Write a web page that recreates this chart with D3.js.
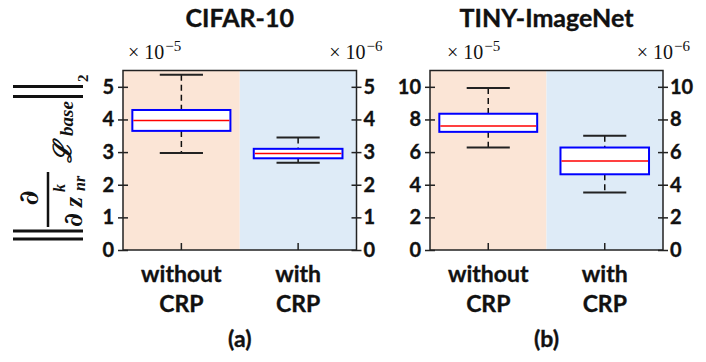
<!DOCTYPE html>
<html lang="en">
<head>
<meta charset="UTF-8">
<script src="https://d3js.org/d3.v7.min.js"></script>
<title>CRP gradient norm boxplots</title>
<style>
    body { margin: 0; background: #fff; }
    svg text { fill: #111; }
    .lbl { font-family: Lato, "Open Sans", sans-serif; font-weight: bold; stroke: #111; stroke-width: 0.35px; }
    .math { font-family: "Liberation Serif", "DejaVu Serif", serif; }
    .dee { font-family: "DejaVu Serif", serif; font-weight: bold; font-style: italic; }
</style>
</head>
<body>
<div id="fig"></div>
<script>
    // categories and labels
    const categories = ["without CRP", "with CRP"];
    const panelTitles = ["CIFAR-10", "TINY-ImageNet"];
    const panelTags = ["(a)", "(b)"];
    const exponents = ["−5", "−6"]; // left box scale, right box scale

    // box stats: [min, q1, median, q3, max]
    const cifarWithout = [2.97, 3.65, 3.97, 4.29, 5.37];
    const cifarWith = [2.67, 2.81, 2.96, 3.10, 3.45];
    const tinyWithout = [6.28, 7.24, 7.60, 8.35, 9.92];
    const tinyWith = [3.52, 4.64, 5.45, 6.28, 7.00];

    const cifarTicks = [0, 1, 2, 3, 4, 5];
    const tinyTicks = [0, 2, 4, 6, 8, 10];
    const yMaxes = [5.5, 11];

    const W = 706, H = 362;
    const plotTop = 70.5, plotBottom = 250;

    const panels = [
        { left: 123, right: 356.5, stats: [cifarWithout, cifarWith], ticks: cifarTicks, ymax: yMaxes[0], expL: 5, expR: 26 },
        { left: 430, right: 663, stats: [tinyWithout, tinyWith], ticks: tinyTicks, ymax: yMaxes[1], expL: 17, expR: 27 }
    ];
    const boxFrac = [0.84, 0.76];
    const capFrac = 0.37;
    const bgColors = ["#fbe5d6", "#deebf7"];
    const axisColor = "#222";

    const svg = d3.select("#fig").append("svg")
        .attr("width", W)
        .attr("height", H);

    panels.forEach((p, pi) => {
        const g = svg.append("g");

        const x = d3.scaleBand()
            .domain(categories)
            .range([p.left, p.right]);
        const y = d3.scaleLinear()
            .domain([0, p.ymax])
            .range([plotBottom, plotTop]);

        // shaded halves
        g.selectAll("rect.bg")
            .data(categories)
            .enter().append("rect")
            .attr("class", "bg")
            .attr("x", d => x(d))
            .attr("y", plotTop)
            .attr("width", x.bandwidth())
            .attr("height", plotBottom - plotTop)
            .attr("fill", (d, i) => bgColors[i]);

        // boxes
        const boxes = g.selectAll("g.box")
            .data(categories)
            .enter().append("g")
            .attr("class", "box");

        boxes.each(function (cat, i) {
            const s = p.stats[i];
            const cx = x(cat) + x.bandwidth() / 2;
            const bw = x.bandwidth() * boxFrac[i];
            const cw = x.bandwidth() * capFrac;
            const b = d3.select(this);

            // whiskers
            b.append("line")
                .attr("x1", cx).attr("x2", cx)
                .attr("y1", y(s[4])).attr("y2", y(s[3]))
                .attr("stroke", "#111").attr("stroke-width", 1.5)
                .attr("stroke-dasharray", "6,4");
            b.append("line")
                .attr("x1", cx).attr("x2", cx)
                .attr("y1", y(s[1])).attr("y2", y(s[0]))
                .attr("stroke", "#111").attr("stroke-width", 1.5)
                .attr("stroke-dasharray", "6,4");
            // caps
            [s[0], s[4]].forEach(v => {
                b.append("line")
                    .attr("x1", cx - cw / 2).attr("x2", cx + cw / 2)
                    .attr("y1", y(v)).attr("y2", y(v))
                    .attr("stroke", "#222").attr("stroke-width", 2);
            });
            // box
            b.append("rect")
                .attr("x", cx - bw / 2)
                .attr("y", y(s[3]))
                .attr("width", bw)
                .attr("height", y(s[1]) - y(s[3]))
                .attr("fill", "#fff")
                .attr("stroke", "#0000ff")
                .attr("stroke-width", 2);
            // median
            b.append("line")
                .attr("x1", cx - bw / 2 + 1).attr("x2", cx + bw / 2 - 1)
                .attr("y1", y(s[2])).attr("y2", y(s[2]))
                .attr("stroke", "#ff0000").attr("stroke-width", 1.5);

            // category tick along the bottom (inside)
            g.append("line")
                .attr("x1", cx).attr("x2", cx)
                .attr("y1", plotBottom).attr("y2", plotBottom - 7)
                .attr("stroke", axisColor).attr("stroke-width", 1.5);

            // two-line category label
            const words = cat.split(" ");
            g.append("text")
                .attr("class", "lbl")
                .attr("x", cx).attr("y", 281.5)
                .attr("text-anchor", "middle")
                .attr("font-size", 23)
                .text(words[0]);
            g.append("text")
                .attr("class", "lbl")
                .attr("x", cx).attr("y", 311.5)
                .attr("text-anchor", "middle")
                .attr("font-size", 23)
                .text(words[1]);
        });

        // frame
        g.append("rect")
            .attr("x", p.left).attr("y", plotTop)
            .attr("width", p.right - p.left)
            .attr("height", plotBottom - plotTop)
            .attr("fill", "none")
            .attr("stroke", axisColor)
            .attr("stroke-width", 1.5);

        // left and right axes (ticks cross the frame)
        const leftAxis = g.append("g")
            .attr("transform", "translate(" + (p.left + 5) + ",0)")
            .call(d3.axisLeft(y).tickValues(p.ticks).tickFormat(d3.format("d")).tickSize(10).tickPadding(4));
        const rightAxis = g.append("g")
            .attr("transform", "translate(" + (p.right - 5) + ",0)")
            .call(d3.axisRight(y).tickValues(p.ticks).tickFormat(d3.format("d")).tickSize(10).tickPadding(2));
        [leftAxis, rightAxis].forEach(a => {
            a.select(".domain").remove();
            a.selectAll(".tick line").attr("stroke", axisColor).attr("stroke-width", 1.5);
            a.selectAll(".tick text")
                .attr("class", "lbl")
                .attr("font-size", 20)
                .attr("fill", "#111");
        });

        // exponent labels
        const expL = g.append("text")
            .attr("class", "math")
            .attr("x", p.left + p.expL)
            .attr("y", 59)
            .attr("font-size", 20);
        expL.append("tspan").text("× 10");
        expL.append("tspan").attr("dx", 1).attr("dy", -8).attr("font-size", 15).text(exponents[0]);

        const expR = g.append("text")
            .attr("class", "math")
            .attr("x", p.right + p.expR)
            .attr("y", 59)
            .attr("text-anchor", "end")
            .attr("font-size", 20);
        expR.append("tspan").text("× 10");
        expR.append("tspan").attr("dx", 1).attr("dy", -8).attr("font-size", 15).text(exponents[1]);

        // title and panel tag
        g.append("text")
            .attr("class", "lbl")
            .attr("x", (p.left + p.right) / 2)
            .attr("y", 27)
            .attr("text-anchor", "middle")
            .attr("font-size", 25)
            .text(panelTitles[pi]);
        g.append("text")
            .attr("class", "lbl")
            .attr("x", (p.left + p.right) / 2)
            .attr("y", 346.5)
            .attr("text-anchor", "middle")
            .attr("font-size", 23)
            .text(panelTags[pi]);
    });

    // y label: || d/dz^k_nr L_base ||_2, built in a rotated frame
    const yl = svg.append("g")
        .attr("transform", "translate(48,160) rotate(-90)");

    // norm bars
    [-79, -71, 63.5, 73.5].forEach(xx => {
        yl.append("line")
            .attr("x1", xx).attr("x2", xx)
            .attr("y1", -35).attr("y2", 35)
            .attr("stroke", "#111").attr("stroke-width", 3.2);
    });
    yl.append("text").attr("class", "math")
        .attr("x", 78).attr("y", 40)
        .attr("font-size", 15).attr("font-weight", "bold").text("2");

    // fraction
    yl.append("line")
        .attr("x1", -67).attr("x2", -12)
        .attr("y1", 0).attr("y2", 0)
        .attr("stroke", "#111").attr("stroke-width", 2.5);
    yl.append("text").attr("class", "dee")
        .attr("x", -38).attr("y", -10)
        .attr("text-anchor", "middle")
        .attr("font-size", 27)
        .text("∂");
    yl.append("text").attr("class", "dee")
        .attr("x", -67).attr("y", 34)
        .attr("font-size", 26)
        .text("∂");
    yl.append("text").attr("class", "math")
        .attr("x", -47).attr("y", 34)
        .attr("font-size", 26).attr("font-style", "italic").attr("font-weight", "bold")
        .text("z");
    yl.append("text").attr("class", "math")
        .attr("x", -32).attr("y", 17)
        .attr("font-size", 16).attr("font-style", "italic").attr("font-weight", "bold")
        .text("k");
    yl.append("text").attr("class", "math")
        .attr("x", -31).attr("y", 37)
        .attr("font-size", 16).attr("font-style", "italic").attr("font-weight", "bold")
        .text("nr");

    // loss term
    yl.append("text")
        .attr("x", -3).attr("y", 23)
        .attr("font-family", "'DejaVu Serif', serif")
        .attr("font-size", 25).attr("font-style", "italic").attr("font-weight", "bold")
        .text("ℒ");
    yl.append("text").attr("class", "math")
        .attr("x", 24).attr("y", 25)
        .attr("font-size", 19).attr("font-style", "italic").attr("font-weight", "bold")
        .text("base");
</script>
</body>
</html>
